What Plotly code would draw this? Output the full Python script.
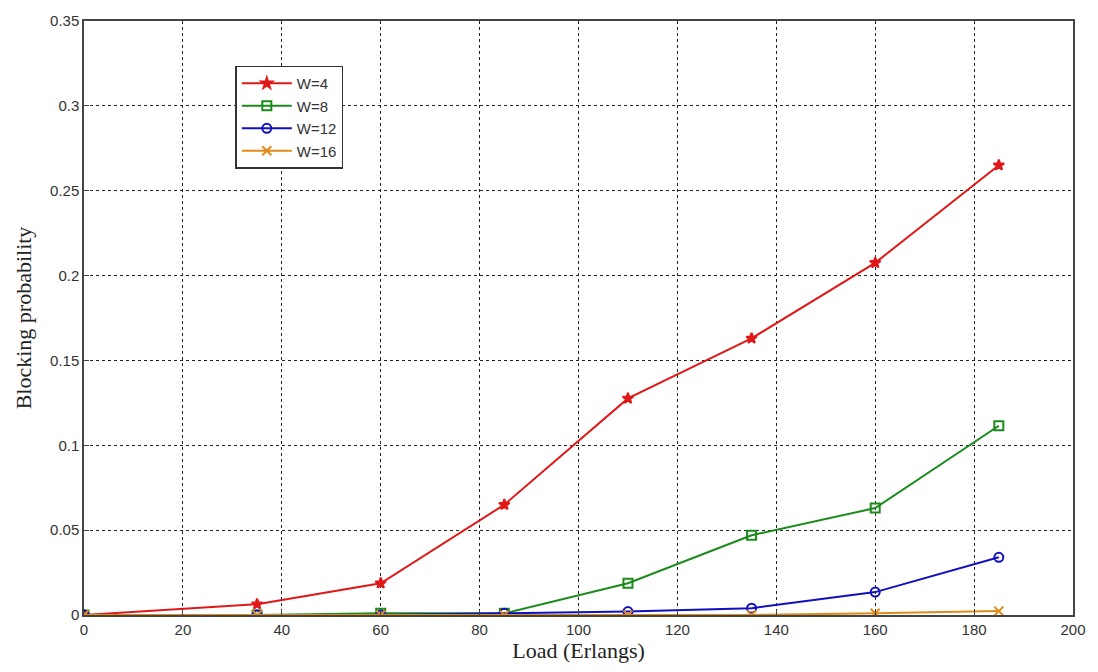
import plotly.graph_objects as go

load = [0, 35, 60, 85, 110, 135, 160, 185]
w4 = [0, 0.0064, 0.0187, 0.065, 0.1276, 0.163, 0.2075, 0.265]
w8 = [0, 0, 0.001, 0.001, 0.0187, 0.047, 0.063, 0.1115]
w12 = [0, 0, 0, 0.001, 0.002, 0.004, 0.0135, 0.034]
w16 = [0, 0, 0, 0, 0, 0, 0.001, 0.0023]
names = ["W=4", "W=8", "W=12", "W=16"]
x_ticks = [0, 20, 40, 60, 80, 100, 120, 140, 160, 180, 200]
y_ticks = [0, 0.05, 0.1, 0.15, 0.2, 0.25, 0.3, 0.35]
y_labels = ["0", "0.05", "0.1", "0.15", "0.2", "0.25", "0.3", "0.35"]

styles = [
    dict(color="#e01818", symbol="star", size=8),
    dict(color="#1a8a1a", symbol="square-open", size=9),
    dict(color="#1010c0", symbol="circle-open", size=9),
    dict(color="#e08a18", symbol="x-thin-open", size=9),
]

fig = go.Figure()
for name, ys, st in zip(names, [w4, w8, w12, w16], styles):
    fig.add_trace(go.Scatter(
        x=load, y=ys, name=name, mode="lines+markers",
        line=dict(color=st["color"], width=2),
        marker=dict(symbol=st["symbol"], size=st["size"], color=st["color"],
                    line=dict(color=st["color"], width=2)),
    ))

axis_common = dict(
    showline=True, linecolor="#444", linewidth=1.5, mirror=True,
    showgrid=True, gridcolor="#222", griddash="dot", gridwidth=1,
    ticks="inside", ticklen=5, tickcolor="#444", zeroline=False,
    tickfont=dict(family="Liberation Sans, Arial", size=15, color="#333"),
)

fig.update_layout(
    width=1098, height=672,
    margin=dict(l=84, r=23, t=17, b=57),
    paper_bgcolor="white", plot_bgcolor="white",
    xaxis=dict(range=[0, 200], tickvals=x_ticks,
               title=dict(text="Load (Erlangs)", standoff=3,
                          font=dict(family="Liberation Serif, Times New Roman", size=22, color="#222")),
               **axis_common),
    yaxis=dict(range=[0, 0.35], tickvals=y_ticks, ticktext=y_labels,
               title=dict(text="Blocking probability", standoff=12,
                          font=dict(family="Liberation Serif, Times New Roman", size=22, color="#222")),
               **axis_common),
    legend=dict(x=0.153, y=0.925, xanchor="left", yanchor="top",
                bgcolor="white", bordercolor="#333", borderwidth=1.5,
                font=dict(family="Liberation Sans, Arial", size=15, color="#333"),
                itemwidth=50, tracegroupgap=1),
    showlegend=True,
)

fig.write_html("out.html", config={"displayModeBar": False},
               post_script="document.body.style.margin='0';document.body.style.padding='0';")
